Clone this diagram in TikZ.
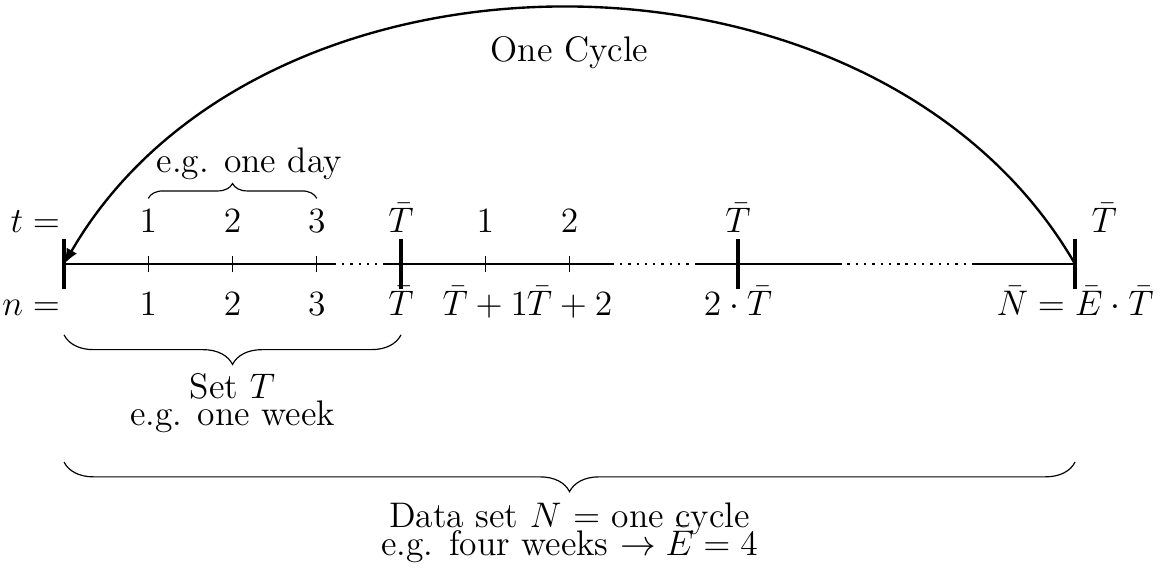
\documentclass[tikz,border=0pt,12pt]{standalone}
\usepackage{amsmath,amssymb}
\usetikzlibrary{decorations.pathreplacing,arrows.meta}

\begin{document}
\begin{tikzpicture}
    \useasboundingbox (-0.76,-3.763) rectangle (13.056,3.134);
    %
    \tikzset{axisline/.style={thick}, bigtick/.style={ultra thick}, smalltick/.style={thin},
             lbl/.style={anchor=base},
             braceup/.style={decorate, decoration={brace, amplitude=5pt}},
             bracedown/.style={decorate, decoration={brace, mirror, amplitude=10pt}}}

    %
    \foreach \i in {0,...,3} {
        \coordinate (m\i) at (4*\i,0);
        \draw[bigtick] (4*\i,-0.3) -- (4*\i,0.3);
    }

    %
    \draw[axisline] (m0) -- (3.2,0);
    \draw[axisline, dotted] (3.2,0) -- (3.8,0);
    \draw[axisline] (3.8,0) -- (6.5,0);
    \draw[axisline, dotted] (6.5,0) -- (7.5,0);
    \draw[axisline] (7.5,0) -- (9.2,0);
    \draw[axisline, dotted] (9.2,0) -- (10.8,0);
    \draw[axisline] (10.8,0) -- (m3);

    %
    \foreach \x in {1,2,3,5,6}
        \draw[smalltick] (\x,-0.1) -- (\x,0.1);

    %
    \node[anchor=base east] (tlbl) at (0.1,0.37) {$t=$};
    \foreach \x/\t [count=\k] in {1/1,2/2,3/3,4/\bar{T},5/1,6/2,8/\bar{T}}
        \node[lbl] (up\k) at (\x,0.37) {$\t$};
    \node[anchor=base west] (upend) at (12.05,0.37) {$\bar{T}$};

    %
    \node[anchor=base east] (nlbl) at (0.1,-0.61) {$n=$};
    \foreach \x/\t [count=\k] in {1/1,2/2,3/3,4/\bar{T},5/\bar{T}+1,6/\bar{T}+2,8/2\cdot\bar{T},12/\bar{N}=\bar{E}\cdot\bar{T}}
        \node[lbl] (lo\k) at (\x,-0.61) {$\t$};

    %
    \draw[braceup] (1,0.78) -- (3,0.78);
    \node[lbl] (day) at (2.2,1.09) {e.g. one day};

    \draw[bracedown] (m0) ++(0,-0.84) -- (4,-0.84);
    \node[align=center] (week) at (2,-1.65) {Set $T$\\[-5.5pt] e.g. one week};

    \draw[bracedown] (0,-2.35) -- (12,-2.35);
    \node[align=center] (cycle) at (6,-3.19) {Data set $N$ = one cycle\\[-5pt] e.g. four weeks $\rightarrow \bar{E} = 4$};

    %
    \draw[thick, -latex] (m3) to[bend right=60] (m0);
    \node (onecycle) at (6,2.51) {One Cycle};

\end{tikzpicture}
\end{document}
